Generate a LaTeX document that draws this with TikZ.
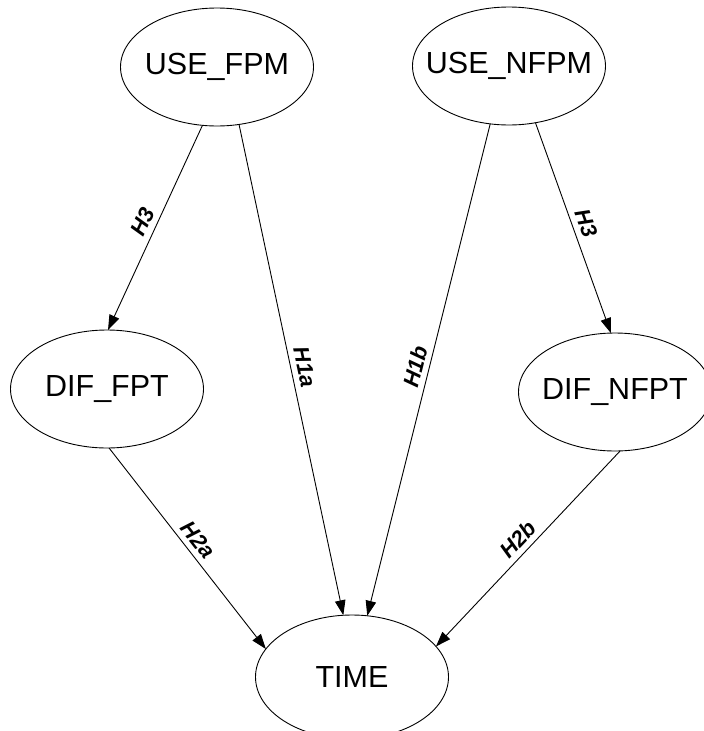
\documentclass[tikz,border=0pt]{standalone}
\usepackage{fontspec}
\setmainfont{Liberation Sans}
\usetikzlibrary{shapes.geometric,arrows.meta}
% keep the ellipse size independent of the label width
\newcommand\vartext[1]{\makebox[0pt]{#1}}
\begin{document}
\begin{tikzpicture}[x=1pt,y=-1pt,
  var/.style={ellipse,draw,line width=0.9pt,inner sep=0pt,outer sep=0pt,
    minimum width=193pt,minimum height=118pt,font=\fontsize{30.5}{36}\selectfont},
  link/.style={line width=0.9pt,-{Triangle[length=15pt,width=10.5pt]}},
  hyp/.style={font=\fontsize{22}{26}\selectfont\bfseries\itshape,
    sloped,above,inner sep=5.5pt,pos=0.5}]
\fill[white] (0,0) rectangle (704,731);
\useasboundingbox (0,0) rectangle (704,731);

% variables
\node[var] (usefpm)  at (217,67)  {\vartext{USE\_FPM}};
\node[var] (usenfpm) at (509,66)  {\vartext{USE\_NFPM}};
\node[var] (diffpt)  at (107,389) {\vartext{DIF\_FPT}};
\node[var] (difnfpt) at (615,392) {\vartext{DIF\_NFPT}};
\node[var,minimum height=124pt] (time) at (352,677) {\vartext{TIME}};

% hypothesised paths
\draw[link] (usefpm.256)  -- node[hyp]{H3}  (diffpt.89);
\draw[link] (usefpm.291)  -- node[hyp]{H1a} (time.98);
\draw[link] (usenfpm.252) -- node[hyp]{H1b} (time.76);
\draw[link] (usenfpm.295) -- node[hyp]{H3}  (difnfpt.94);
\draw[link] (diffpt.272)  -- node[hyp]{H2a} (time.162);
\draw[link] (difnfpt.275) -- node[hyp]{H2b} (time.20);
\end{tikzpicture}
\end{document}
